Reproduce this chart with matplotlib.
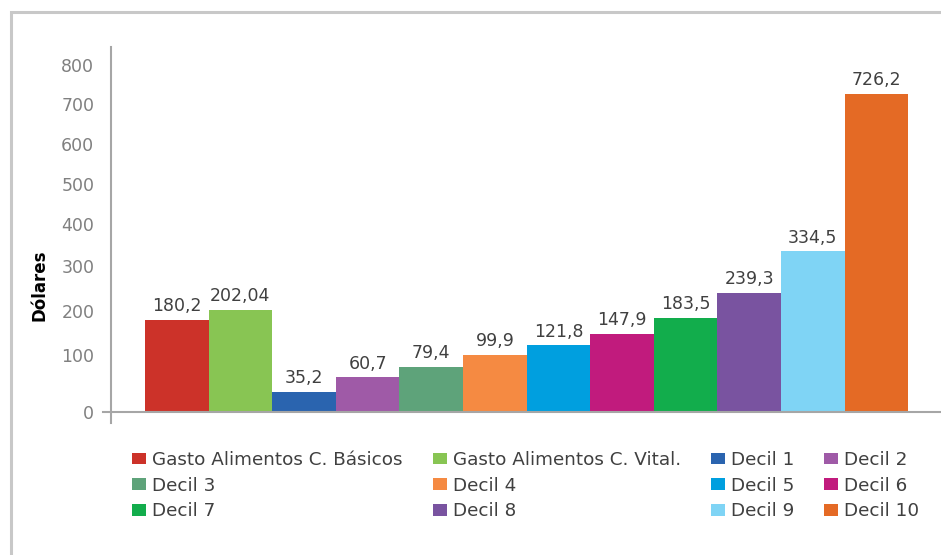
import matplotlib
matplotlib.use("Agg")
import numpy as np
import matplotlib.pyplot as plt
from matplotlib.patches import Rectangle, Patch

labels = ["Gasto Alimentos C. Básicos", "Gasto Alimentos C. Vital.",
          "Decil 1", "Decil 2", "Decil 3", "Decil 4", "Decil 5", "Decil 6",
          "Decil 7", "Decil 8", "Decil 9", "Decil 10"]
values = [180.2, 202.04, 35.2, 60.7, 79.4, 99.9, 121.8, 147.9, 183.5, 239.3, 334.5, 726.2]
value_text = ["180,2", "202,04", "35,2", "60,7", "79,4", "99,9", "121,8", "147,9",
              "183,5", "239,3", "334,5", "726,2"]
colors = ["#CC3229", "#88C553", "#2A64AF", "#9F5AA7", "#5EA37A", "#F58A42",
          "#009FDF", "#C11B7D", "#12AD4C", "#7953A0", "#7FD4F5", "#E46A25"]
yticks = [0, 100, 200, 300, 400, 500, 600, 700, 800]

# the original value axis is not evenly spaced: piecewise scale read from its ticks
scale_vals = [-100, 0, 100, 200, 300, 400, 500, 600, 700, 800, 1000]
scale_pos = [-57, 0, 57, 101, 146, 188, 228, 268, 308, 347, 425]


def fwd(v):
    return np.interp(v, scale_vals, scale_pos)


def inv(p):
    return np.interp(p, scale_pos, scale_vals)


plt.rcParams['font.family'] = ['DejaVu Sans']

fig = plt.figure(figsize=(9.41, 5.55), dpi=100)

# gray frame, only top and left edges visible
fig.patches.append(Rectangle((11 / 941, -0.1), 1.2, 1 - 12 / 555 + 0.1,
                             transform=fig.transFigure, fill=False,
                             edgecolor="#c8c8c8", linewidth=2.2))

ax = fig.add_axes([111 / 941, 1 - 423 / 555, 829 / 941, 376 / 555])
ax.set_yscale("function", functions=(fwd, inv))
x = list(range(len(values)))
bars = ax.bar(x, values, width=1.0, color=colors)

for xi, v, t in zip(x, values, value_text):
    ax.annotate(t, (xi, v), xytext=(0, 3.5), textcoords="offset points",
                ha="center", va="bottom", fontsize=12.5, color="#404040")

ax.set_xlim(-1.035, 12.0)
ax.set_ylim(-19.3, 846)
ax.set_xticks([])
ax.set_yticks(yticks)
ax.set_yticklabels([str(t) for t in yticks], fontsize=12.5, color="#808080")
ax.yaxis.set_minor_locator(matplotlib.ticker.NullLocator())
ax.tick_params(axis="y", length=0, pad=12)

for s in ["top", "right"]:
    ax.spines[s].set_visible(False)
ax.spines["left"].set_color("#a6a6a6")
ax.spines["left"].set_linewidth(1.5)
ax.spines["bottom"].set_visible(False)
ax.axhline(0, xmin=-0.01, xmax=1.0, color="#a6a6a6", linewidth=1.5, clip_on=False)

fig.text(40 / 941, 1 - 285 / 555, "Dólares", rotation=90, ha="center", va="center",
         fontsize=12, fontweight="bold", color="#000000")

# legend filled row by row: reorder for column-major layout
ncol = 4
handles = [Patch(facecolor=c, edgecolor="none") for c in colors]
order = [r * ncol + c for c in range(ncol) for r in range(3)]
leg = fig.legend([handles[i] for i in order], [labels[i] for i in order], ncol=ncol,
                 loc="upper left", bbox_to_anchor=(132 / 941, 1 - 451 / 555),
                 frameon=False, fontsize=13.2, handlelength=0.78, handleheight=0.6,
                 handletextpad=0.33, columnspacing=1.62, labelspacing=0.42,
                 borderpad=0, borderaxespad=0)
for t in leg.get_texts():
    t.set_color("#404040")

fig.savefig("out.png", dpi=100)
